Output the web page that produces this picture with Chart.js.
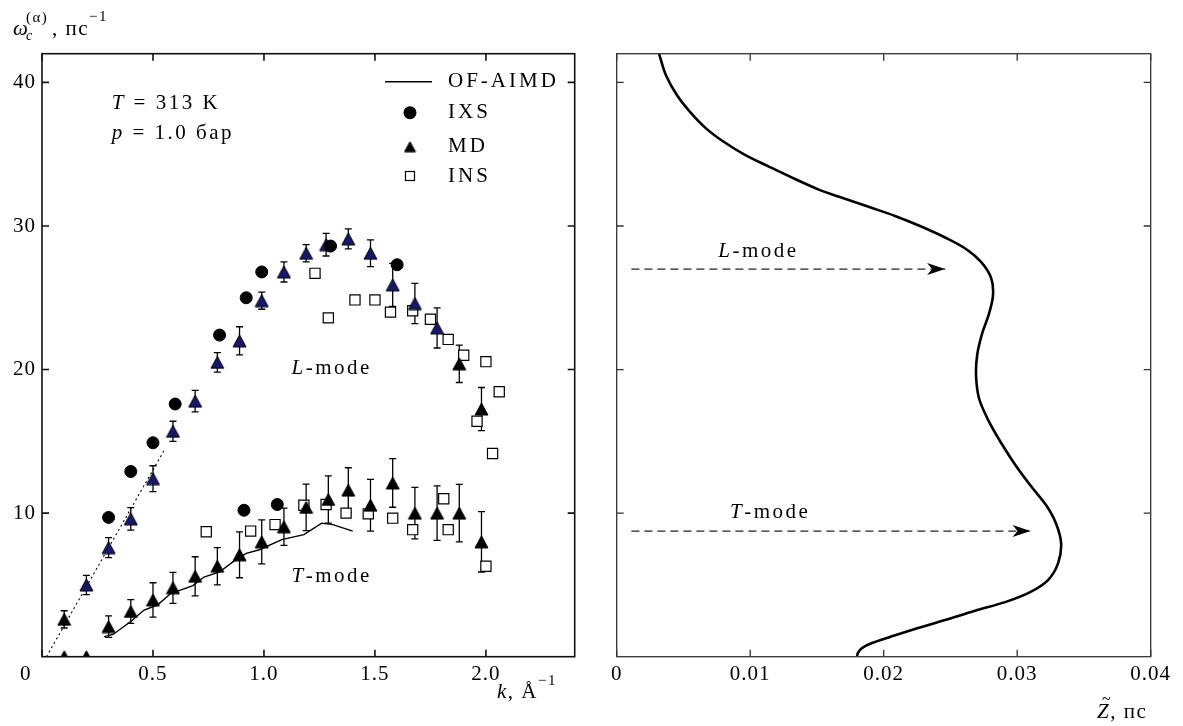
<!DOCTYPE html>
<html>
<head>
<meta charset="utf-8">
<script src="https://cdn.jsdelivr.net/npm/chart.js@4.4.1/dist/chart.umd.min.js"></script>
<style>
  html, body { margin: 0; padding: 0; background: #fff; }
  #wrap  { position: relative; width: 1183px; height: 726px; }
  #left  { position: absolute; left: 0; top: 0; }
  #right { position: absolute; left: 590px; top: 0; }
</style>
</head>
<body>
<div id="wrap">
  <canvas id="left" width="600" height="726"></canvas>
  <canvas id="right" width="593" height="726"></canvas>
</div>
<script>
// ---- left panel: ω(k) ----
const ixsK = [0.30, 0.40, 0.50, 0.60, 0.80, 0.92, 0.99, 1.30, 1.60, 0.91, 1.06];
const ixsW = [9.7, 12.9, 14.9, 17.6, 22.4, 25.0, 26.8, 28.6, 27.3, 10.2, 10.6];

const mdLK   = [0.10, 0.20, 0.30, 0.40, 0.50, 0.59, 0.69, 0.79, 0.89, 0.99, 1.09, 1.19, 1.28, 1.38, 1.48, 1.58, 1.68, 1.78, 1.88, 1.98];
const mdLW   = [2.6, 5.0, 7.6, 9.6, 12.4, 15.7, 17.8, 20.5, 22.0, 24.8, 26.8, 28.1, 28.7, 29.1, 28.1, 25.9, 24.6, 22.9, 20.4, 17.25];
const mdLErr = [0.6, 0.67, 0.7, 0.78, 0.9, 0.7, 0.75, 0.68, 0.98, 0.6, 0.7, 0.6, 0.79, 0.7, 0.93, 1.5, 1.4, 1.4, 1.3, 1.5];

const mdTK   = [0.10, 0.20, 0.30, 0.40, 0.50, 0.59, 0.69, 0.79, 0.89, 0.99, 1.09, 1.19, 1.29, 1.38, 1.48, 1.58, 1.68, 1.78, 1.88, 1.98];
const mdTW   = [0, 0, 2.1, 3.15, 3.95, 4.8, 5.6, 6.3, 7.1, 8.0, 9.05, 10.4, 10.95, 11.6, 10.55, 12.1, 10.0, 10.0, 10.0, 8.0];
const mdTErr = [0, 0, 0.75, 0.83, 1.2, 1.08, 1.36, 1.3, 1.6, 1.53, 1.3, 1.62, 1.65, 1.56, 1.8, 1.69, 1.8, 1.9, 2.0, 2.1];

const insK = [0.74, 0.94, 1.05, 1.18, 1.28, 1.37, 1.47, 1.58, 1.67, 1.81, 1.83, 2.00,
              1.23, 1.29, 1.41, 1.50, 1.57, 1.67, 1.75, 1.83, 1.90, 2.00, 2.06, 1.96, 2.03];
const insW = [8.7, 8.75, 9.2, 10.55, 10.6, 10.0, 9.95, 9.65, 8.85, 11.0, 8.85, 6.3,
              26.7, 23.6, 24.85, 24.85, 24.0, 24.1, 23.5, 22.1, 21.0, 20.55, 18.45, 16.4, 14.15];

const aimdK = [0.28, 0.32, 0.40, 0.46, 0.52, 0.58, 0.68, 0.73, 0.80, 0.86, 0.92, 0.98, 1.08, 1.18, 1.26, 1.31, 1.40];
const aimdW = [1.4, 1.55, 2.45, 3.25, 3.6, 4.4, 4.95, 5.55, 5.9, 6.6, 7.2, 7.45, 8.15, 8.5, 9.3, 9.2, 8.75];

const dotK = [0.02, 0.555];
const dotW = [0, 14.5];

// ---- right panel: Z̃(ω) ----
const zCurve = [0.00317, 0.00369, 0.00452, 0.00549, 0.00669, 0.00796, 0.00961, 0.01148, 0.01336, 0.01523,
                0.0171, 0.01898, 0.02085, 0.02272, 0.0246, 0.02616, 0.02729, 0.02804, 0.02819, 0.02789,
                0.02737, 0.0270, 0.02692, 0.02714, 0.02782, 0.02879, 0.0299, 0.0311, 0.03216, 0.0329,
                0.03329, 0.03306, 0.03231, 0.03097, 0.02909, 0.02684, 0.0246, 0.02234, 0.02047, 0.01912,
                0.01837, 0.01807, 0.0180];
const wCurve = [42.0, 40.5, 39.1, 37.95, 36.8, 35.9, 34.95, 34.1, 33.27, 32.5,
                31.9, 31.3, 30.7, 30.0, 29.2, 28.4, 27.5, 26.4, 25.2, 23.9,
                22.5, 21.0, 19.55, 18.0, 16.5, 14.9, 13.3, 11.8, 10.56, 9.3,
                7.9, 6.5, 5.34, 4.5, 3.8, 3.2, 2.55, 1.93, 1.37, 0.95,
                0.6, 0.26, 0];
const arrowLZ = [0.0011, 0.0246];
const arrowLW = [27.0, 27.0];
const arrowTZ = [0.0011, 0.0310];
const arrowTW = [8.75, 8.75];

// ---- ticks ----
const xTicksL  = [0, 0.5, 1.0, 1.5, 2.0];
const xLabelsL = ["", "0.5", "1.0", "1.5", "2.0"];
const yTicks   = [10, 20, 30, 40];
const yLabels  = ["10", "20", "30", "40"];
const xTicksR  = [0, 0.01, 0.02, 0.03, 0.04];
const xLabelsR = ["0", "0.01", "0.02", "0.03", "0.04"];

const SERIF = '"Liberation Serif", "Times New Roman", serif';
const NAVY  = "#17176e";
const F = (size, italic) => `${italic ? "italic " : ""}${size}px ${SERIF}`;
const pts = (xs, ys) => xs.map((x, i) => ({ x, y: ys[i] }));

// triangle marker centred on its box (matplotlib-like '^')
function triangle(fill, w, h) {
  const c = document.createElement("canvas");
  c.width = w + 2; c.height = h + 2;
  const g = c.getContext("2d");
  g.beginPath();
  g.moveTo(1 + w / 2, 1); g.lineTo(1 + w, 1 + h); g.lineTo(1, 1 + h); g.closePath();
  g.fillStyle = fill; g.fill();
  g.strokeStyle = "#000"; g.lineWidth = 1; g.stroke();
  return c;
}
const triNavy  = triangle(NAVY, 13, 12);
const triBlack = triangle("#000", 13, 12);
const triSmall = triangle("#000", 11, 10);

// draw a row of text pieces: [text, font, dy]
function runs(ctx, x, y, parts) {
  let cx = x;
  for (const [t, f, dy = 0] of parts) {
    ctx.font = f;
    ctx.fillText(t, cx, y + dy);
    cx += ctx.measureText(t).width;
  }
  return cx;
}

// ---- plugins ----
const spacing = {
  id: "spacing",
  beforeDraw(chart) { chart.ctx.letterSpacing = "1px"; }
};

const errorBars = {
  id: "errorBars",
  beforeDatasetsDraw(chart) {
    const { ctx, chartArea: a, scales: { y } } = chart;
    ctx.save();
    ctx.beginPath(); ctx.rect(a.left, a.top, a.width, a.height); ctx.clip();
    ctx.strokeStyle = "#000"; ctx.lineWidth = 1.3;
    chart.data.datasets.forEach((ds, i) => {
      if (!ds.errors) return;
      chart.getDatasetMeta(i).data.forEach((el, j) => {
        const e = ds.errors[j];
        if (!e) return;
        const v = ds.data[j].y;
        const top = y.getPixelForValue(v + e), bot = y.getPixelForValue(v - e);
        ctx.beginPath();
        ctx.moveTo(el.x, top); ctx.lineTo(el.x, bot);
        ctx.moveTo(el.x - 3.5, top); ctx.lineTo(el.x + 3.5, top);
        ctx.moveTo(el.x - 3.5, bot); ctx.lineTo(el.x + 3.5, bot);
        ctx.stroke();
      });
    });
    ctx.restore();
  }
};

const frameTicks = {
  id: "frameTicks",
  afterDatasetsDraw(chart, args, opts) {
    const { ctx, chartArea: a, scales: { x, y } } = chart;
    ctx.save();
    ctx.strokeStyle = opts.color || "#111";
    ctx.lineWidth = opts.width || 1.4;
    ctx.strokeRect(a.left, a.top, a.width, a.height);
    ctx.beginPath();
    x.ticks.forEach(t => {
      const p = x.getPixelForValue(t.value);
      ctx.moveTo(p, a.bottom); ctx.lineTo(p, a.bottom - 7);
      ctx.moveTo(p, a.top);    ctx.lineTo(p, a.top + 7);
    });
    y.ticks.forEach(t => {
      const p = y.getPixelForValue(t.value);
      ctx.moveTo(a.left, p);  ctx.lineTo(a.left + 7, p);
      ctx.moveTo(a.right, p); ctx.lineTo(a.right - 7, p);
    });
    ctx.stroke();
    ctx.restore();
  }
};

const arrowHeads = {
  id: "arrowHeads",
  afterDatasetsDraw(chart) {
    const { ctx } = chart;
    chart.data.datasets.forEach((ds, i) => {
      if (!ds.arrow) return;
      const els = chart.getDatasetMeta(i).data;
      const tip = els[els.length - 1], from = els[els.length - 2];
      const ang = Math.atan2(tip.y - from.y, tip.x - from.x);
      ctx.save();
      ctx.translate(tip.x, tip.y); ctx.rotate(ang);
      ctx.fillStyle = "#000";
      ctx.beginPath();
      ctx.moveTo(0, 0); ctx.lineTo(-18, -6); ctx.lineTo(-13, 0); ctx.lineTo(-18, 6);
      ctx.closePath(); ctx.fill();
      ctx.restore();
    });
  }
};

const leftText = {
  id: "leftText",
  afterDraw(chart) {
    const { ctx, scales: { x, y } } = chart;
    ctx.save();
    ctx.fillStyle = "#000";
    ctx.textAlign = "left";
    ctx.letterSpacing = "2.5px";
    ctx.textBaseline = "middle";

    // in-plot notes
    runs(ctx, x.getPixelForValue(0.314), y.getPixelForValue(38.55), [["T", F(21, true)], [" = 313 K", F(21)]]);
    runs(ctx, x.getPixelForValue(0.314), y.getPixelForValue(36.45), [["p", F(21, true)], [" = 1.0 бар", F(21)]]);
    runs(ctx, x.getPixelForValue(1.124), y.getPixelForValue(20.08), [["L", F(21, true)], ["-mode", F(21)]]);
    runs(ctx, x.getPixelForValue(1.124), y.getPixelForValue(5.57),  [["T", F(21, true)], ["-mode", F(21)]]);

    // legend
    ctx.letterSpacing = "3px";
    const lx = 410, tx = 448, ly = [81.7, 112.7, 146.7, 176];
    ["OF-AIMD", "IXS", "MD", "INS"].forEach((t, i) => {
      ctx.font = F(21); ctx.fillText(t, tx, ly[i]);
    });
    ctx.strokeStyle = "#000"; ctx.lineWidth = 1.4;
    ctx.beginPath(); ctx.moveTo(385, ly[0]); ctx.lineTo(432, ly[0]); ctx.stroke();
    ctx.beginPath(); ctx.arc(lx, ly[1], 6.5, 0, Math.PI * 2); ctx.fill();
    ctx.drawImage(triSmall, lx - triSmall.width / 2, ly[2] - triSmall.height / 2);
    ctx.fillStyle = "#fff"; ctx.lineWidth = 1.2;
    ctx.fillRect(lx - 4.5, ly[3] - 4.5, 9, 9); ctx.strokeRect(lx - 4.5, ly[3] - 4.5, 9, 9);
    ctx.fillStyle = "#000";

    // axis titles
    ctx.letterSpacing = "1.5px";
    ctx.textBaseline = "alphabetic";
    runs(ctx, 13, 35, [["ω", F(21, true)]]);
    runs(ctx, 26, 40, [["c", F(14, true)]]);
    runs(ctx, 26, 22, [["(α)", F(15)]]);
    runs(ctx, 52, 35, [[", пс", F(21)], ["−1", F(15), -14]]);
    runs(ctx, 497, 698, [["k", F(21, true)], [", Å", F(21)], ["−1", F(15), -13]]);

    // origin label
    ctx.textAlign = "center"; ctx.textBaseline = "middle";
    ctx.font = F(21);
    ctx.fillText("0", 26, 674.5);
    ctx.restore();
  }
};

const rightText = {
  id: "rightText",
  afterDraw(chart) {
    const { ctx, scales: { x, y } } = chart;
    ctx.save();
    ctx.fillStyle = "#000";
    ctx.textAlign = "left";
    ctx.letterSpacing = "2.5px";
    ctx.textBaseline = "middle";
    runs(ctx, x.getPixelForValue(0.00761), y.getPixelForValue(28.2),  [["L", F(21, true)], ["-mode", F(21)]]);
    runs(ctx, x.getPixelForValue(0.00849), y.getPixelForValue(10.03), [["T", F(21, true)], ["-mode", F(21)]]);

    ctx.letterSpacing = "1.5px";
    ctx.textBaseline = "alphabetic";
    const zx = 507;
    runs(ctx, zx, 718, [["Z", F(21, true)], [", пс", F(21)]]);
    ctx.font = F(16);
    ctx.fillText("~", zx + 5, 704);
    ctx.restore();
  }
};

// ---- shared axis builders ----
function xAxis(min, max, ticks, labels, height) {
  return {
    type: "linear", min, max,
    afterBuildTicks: s => { s.ticks = ticks.map(v => ({ value: v })); },
    afterFit: s => { s.height = height; },
    grid: { display: false, drawTicks: false },
    border: { display: false },
    ticks: { autoSkip: false, maxRotation: 0, padding: 5, color: "#000",
             font: { family: SERIF, size: 21 }, callback: (v, i) => labels[i] }
  };
}
function yAxis(width, showLabels) {
  return {
    type: "linear", min: 0, max: 42,
    afterBuildTicks: s => { s.ticks = yTicks.map(v => ({ value: v })); },
    afterFit: s => { s.width = width; },
    grid: { display: false, drawTicks: false },
    border: { display: false },
    ticks: { display: showLabels, padding: 6, color: "#000",
             font: { family: SERIF, size: 21 }, callback: (v, i) => yLabels[i] }
  };
}

// ---- left chart ----
new Chart(document.getElementById("left"), {
  type: "scatter",
  data: {
    datasets: [
      { label: "IXS", data: pts(ixsK, ixsW), pointStyle: "circle", pointRadius: 6,
        backgroundColor: "#000", borderColor: "#000", borderWidth: 1, clip: 0 },
      { label: "MD", data: pts(mdLK, mdLW), errors: mdLErr,
        pointStyle: c => (c.raw && c.raw.x > 0.15 && c.raw.x < 1.85) ? triNavy : triBlack, clip: 0 },
      { label: "MD T", data: pts(mdTK, mdTW), errors: mdTErr, pointStyle: triBlack, clip: 0 },
      { label: "INS", data: pts(insK, insW), pointStyle: "rect", pointRadius: 7.2,
        backgroundColor: "#fff", borderColor: "#000", borderWidth: 1.2, clip: 0 },
      { label: "OF-AIMD", data: pts(aimdK, aimdW), showLine: true, pointRadius: 0,
        borderColor: "#000", borderWidth: 1.4, clip: 0 },
      { label: "slope", data: pts(dotK, dotW), showLine: true, pointRadius: 0,
        borderColor: "#000", borderWidth: 1.1, borderDash: [2, 3], clip: 0 }
    ]
  },
  options: {
    responsive: false, animation: false, events: [],
    layout: { padding: { left: 0, top: 53.7, right: 25.3, bottom: 0 } },
    scales: { x: xAxis(0, 2.4, xTicksL, xLabelsL, 69.3), y: yAxis(42, true) },
    plugins: { legend: { display: false }, tooltip: { enabled: false },
               frameTicks: { width: 1.6, color: "#111" } }
  },
  plugins: [spacing, errorBars, frameTicks, leftText]
});

// ---- right chart ----
new Chart(document.getElementById("right"), {
  type: "scatter",
  data: {
    datasets: [
      { label: "Z", data: pts(zCurve, wCurve), showLine: true, pointRadius: 0, tension: 0.35,
        borderColor: "#000", borderWidth: 2.6, clip: 0 },
      { label: "L-mode", data: pts(arrowLZ, arrowLW), showLine: true, pointRadius: 0, arrow: true,
        borderColor: "#222", borderWidth: 1.3, borderDash: [8, 5] },
      { label: "T-mode", data: pts(arrowTZ, arrowTW), showLine: true, pointRadius: 0, arrow: true,
        borderColor: "#222", borderWidth: 1.3, borderDash: [8, 5] }
    ]
  },
  options: {
    responsive: false, animation: false, events: [],
    layout: { padding: { left: 0, top: 53.7, right: 32.3, bottom: 0 } },
    scales: { x: xAxis(0, 0.04, xTicksR, xLabelsR, 69.3), y: yAxis(26.7, false) },
    plugins: { legend: { display: false }, tooltip: { enabled: false },
               frameTicks: { width: 1.3, color: "#333" } }
  },
  plugins: [spacing, arrowHeads, frameTicks, rightText]
});
</script>
</body>
</html>
